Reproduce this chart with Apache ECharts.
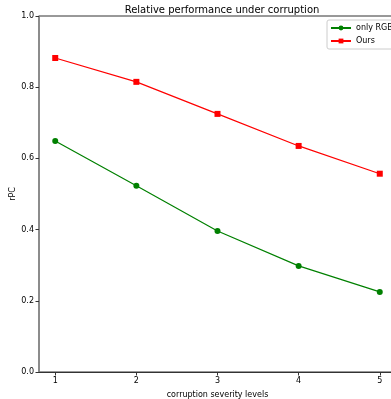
<!DOCTYPE html>
<html>
<head>
<meta charset="utf-8">
<script src="https://cdn.jsdelivr.net/npm/echarts@6/dist/echarts.min.js"></script>
<style>
  html, body { margin: 0; padding: 0; background: #fff; }
  #chart { width: 391px; height: 399px; }
</style>
</head>
<body>
<div id="chart"></div>
<script>
const levels = [1, 2, 3, 4, 5];
const onlyRgb = [0.649, 0.523, 0.396, 0.298, 0.225];
const ours = [0.882, 0.815, 0.725, 0.635, 0.557];

const chart = echarts.init(document.getElementById('chart'));
const font = 'DejaVu Sans';

chart.setOption({
  animation: false,
  title: {
    text: 'Relative performance under corruption',
    left: 217,
    top: 0,
    textAlign: 'center',
    textStyle: { fontFamily: font, fontSize: 10, fontWeight: 'normal', color: '#000' },
  },
  legend: {
    left: 327,
    top: 20,
    orient: 'vertical',
    itemWidth: 20,
    itemHeight: 6,
    itemGap: 5,
    padding: [4, 20, 4, 3],
    borderColor: '#ccc',
    borderWidth: 1,
    borderRadius: 2,
    textStyle: { fontFamily: font, fontSize: 8, color: '#000' },
    data: ['only RGB', 'Ours'],
  },
  grid: {
    left: 39, right: -5, top: 16, bottom: 27,
    outerBoundsMode: 'none', containLabel: false,
    show: true, borderColor: '#333', borderWidth: 1,
  },
  xAxis: {
    type: 'value',
    min: 0.8,
    max: 5.2,
    name: 'corruption severity levels',
    nameLocation: 'middle',
    nameGap: 19,
    nameTextStyle: { fontFamily: font, fontSize: 8, color: '#000' },
    axisLine: { onZero: false, lineStyle: { color: '#333', width: 1 } },
    axisTick: { length: 3.5, lineStyle: { color: '#333' }, customValues: levels },
    axisLabel: { fontFamily: font, fontSize: 8, color: '#000', margin: 5, customValues: levels },
    splitLine: { show: false },
  },
  yAxis: {
    type: 'value',
    min: 0,
    max: 1,
    interval: 0.2,
    name: 'rPC',
    nameLocation: 'middle',
    nameGap: 22,
    nameMoveOverlap: false,
    nameTextStyle: { fontFamily: font, fontSize: 8, color: '#000' },
    axisLine: { show: true, lineStyle: { color: '#888', width: 1.5 } },
    axisTick: { show: true, length: 3.5, lineStyle: { color: '#333' } },
    axisLabel: { fontFamily: font, fontSize: 8, color: '#000', margin: 5, formatter: v => v.toFixed(1) },
    splitLine: { show: false },
  },
  series: [
    {
      name: 'only RGB',
      type: 'line',
      data: levels.map((x, i) => [x, onlyRgb[i]]),
      color: '#008000',
      symbol: 'circle',
      symbolSize: 6,
      lineStyle: { width: 1.2 },
    },
    {
      name: 'Ours',
      type: 'line',
      data: levels.map((x, i) => [x, ours[i]]),
      color: '#ff0000',
      symbol: 'rect',
      symbolSize: 6,
      lineStyle: { width: 1.2 },
    },
  ],
});
</script>
</body>
</html>
